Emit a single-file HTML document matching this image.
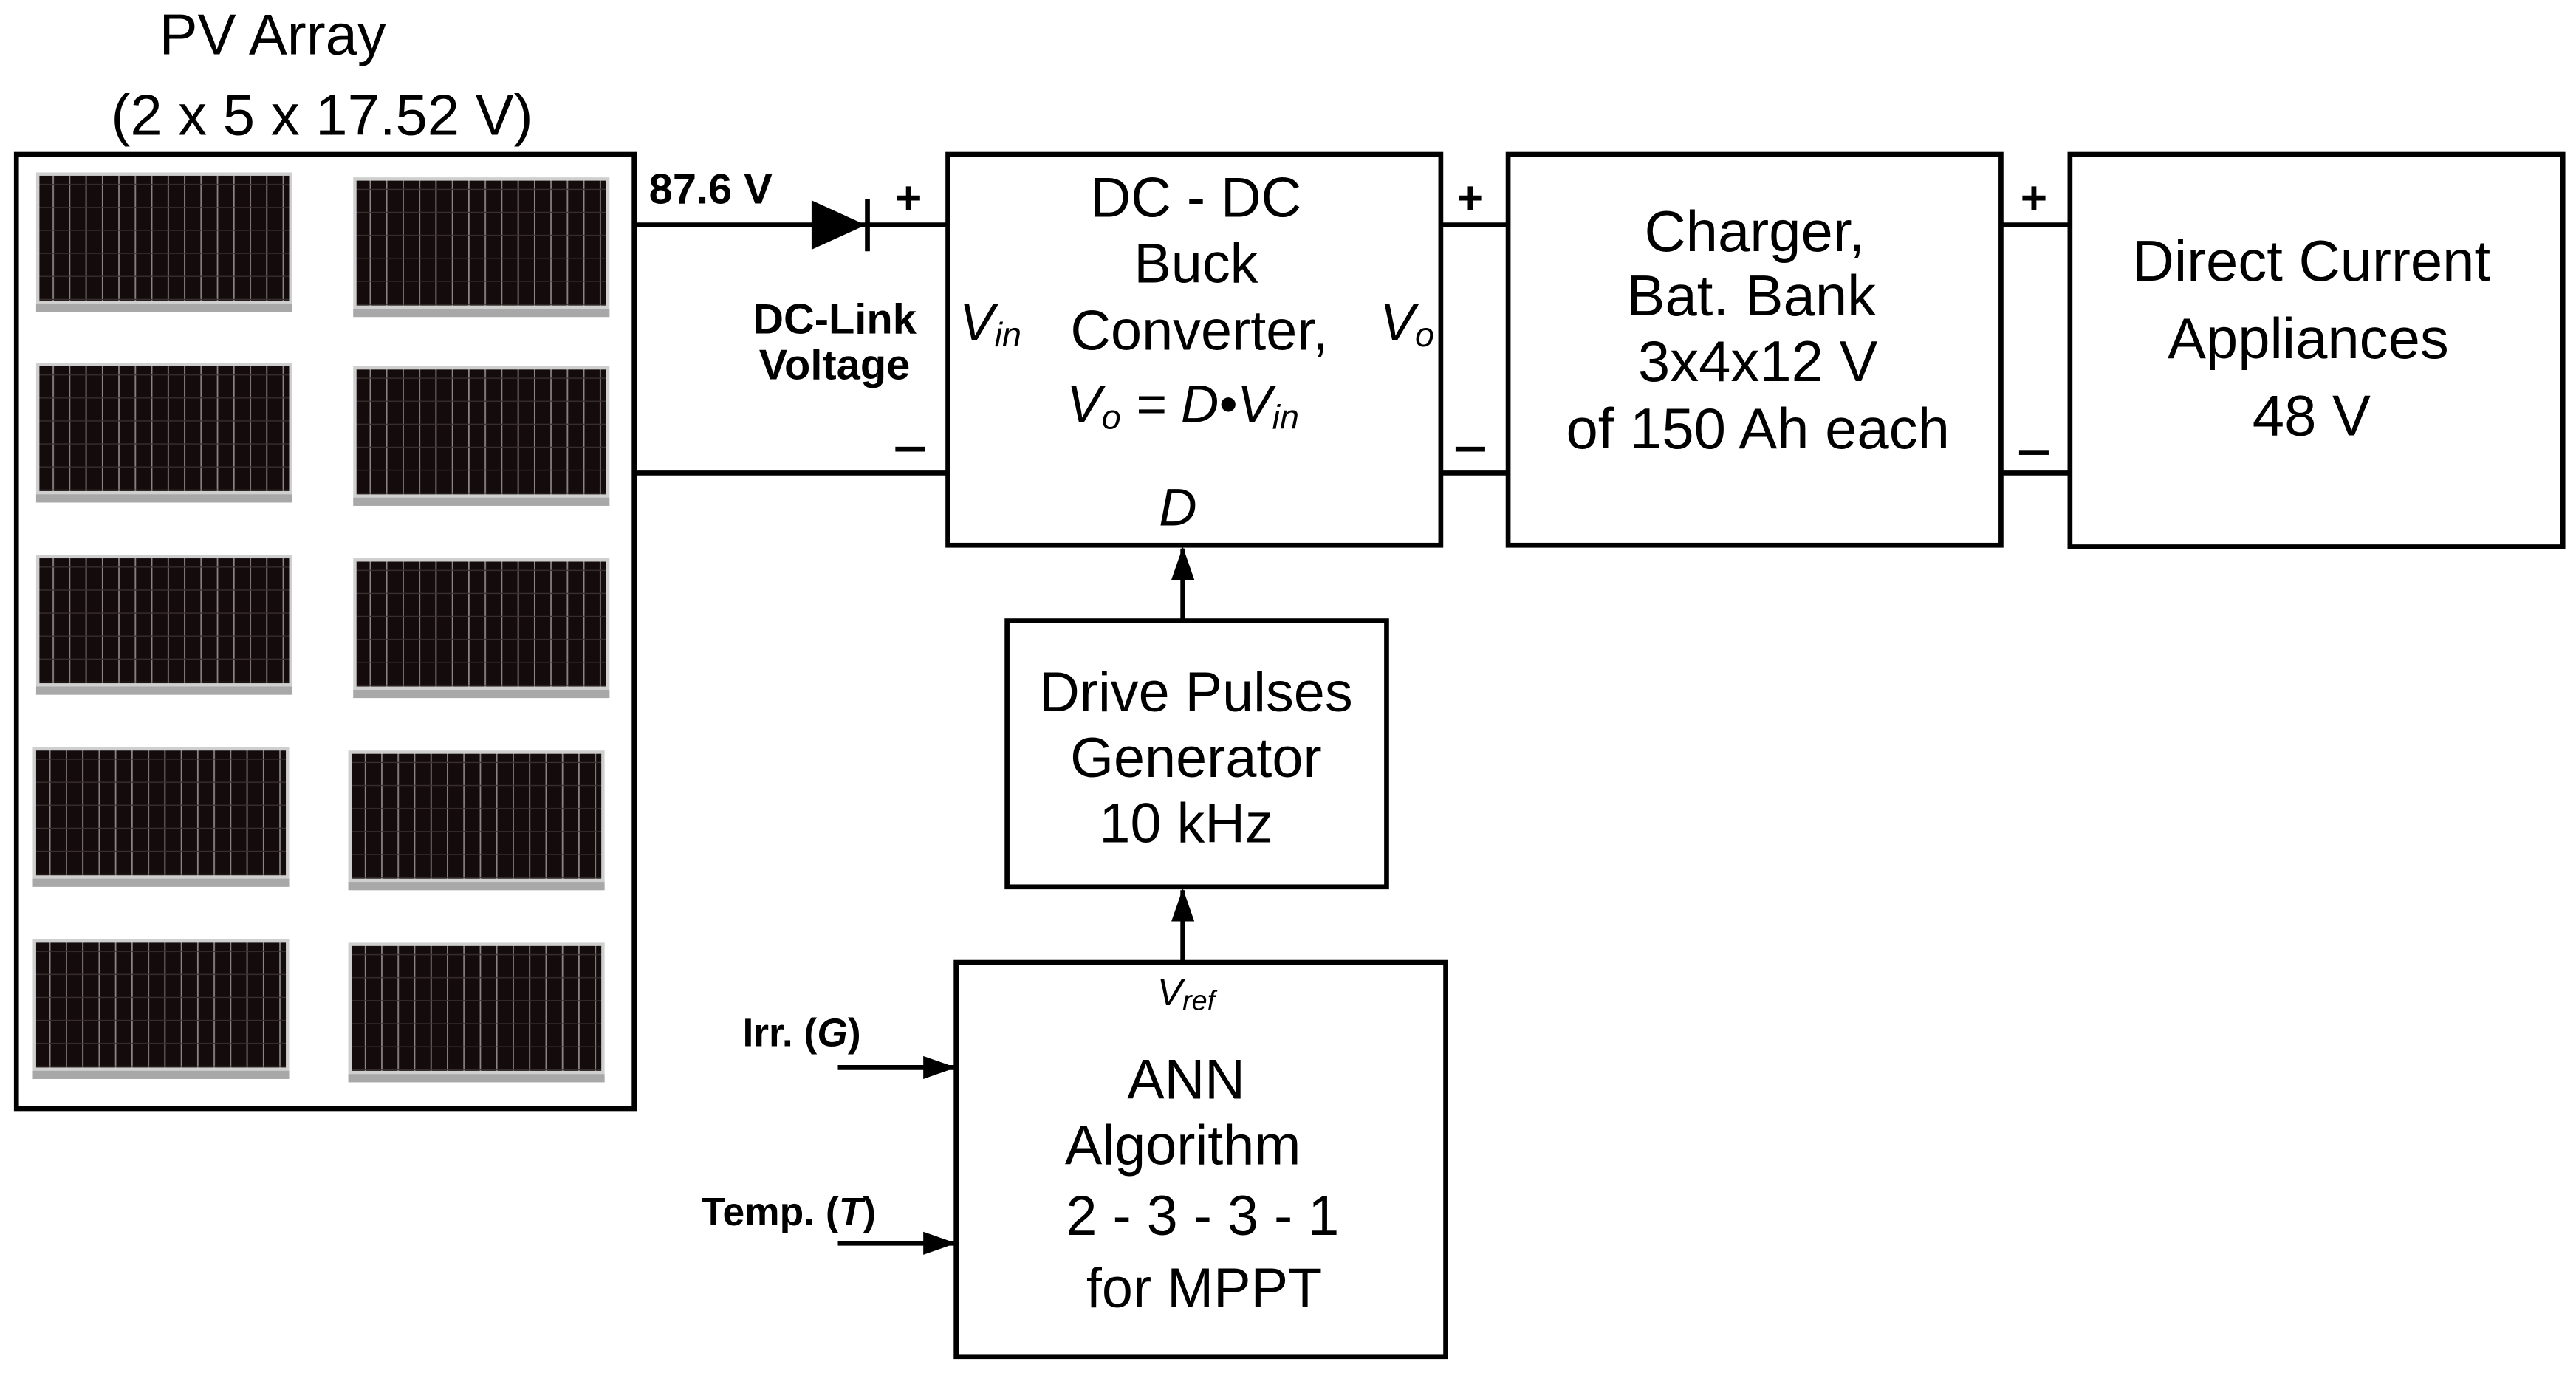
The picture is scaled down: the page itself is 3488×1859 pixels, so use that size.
<!DOCTYPE html>
<html><head><meta charset="utf-8"><style>
html,body{margin:0;padding:0;background:#fff;}
svg{display:block;}
text{font-family:"Liberation Sans",Arial,sans-serif;fill:#000;}
</style></head><body>
<svg width="3488" height="1859" viewBox="0 0 1568 836" preserveAspectRatio="none" xmlns="http://www.w3.org/2000/svg">
<defs>
<pattern id="cells" x="0" y="0" width="10" height="14" patternUnits="userSpaceOnUse">
<rect width="10" height="14" fill="#140c0c"/>
<rect x="0" y="0" width="0.8" height="14" fill="#8a8585"/>
<rect x="0" y="7" width="10" height="0.6" fill="#3a3030"/>
</pattern>
<marker id="ah" markerWidth="20" markerHeight="16" refX="19" refY="8" orient="auto" markerUnits="userSpaceOnUse">
<path d="M0,1 L20,8 L0,15 z" fill="#000"/>
</marker>
<g id="p"><rect x="0" y="0" width="156" height="85" fill="#cfcfcf"/><rect x="2" y="2" width="152" height="76" fill="url(#cells)"/><rect x="0" y="80" width="156" height="5" fill="#a8a8a8"/></g>
</defs>
<text x="166" y="33" font-size="35" text-anchor="middle">PV Array</text>
<text x="196" y="82" font-size="35" text-anchor="middle">(2 x 5 x 17.52 V)</text>
<rect x="10" y="94" width="376" height="581" fill="#fff" stroke="#000" stroke-width="3"/>
<use href="#p" x="22" y="105"/><use href="#p" x="215" y="108"/>
<use href="#p" x="22" y="221"/><use href="#p" x="215" y="223"/>
<use href="#p" x="22" y="338"/><use href="#p" x="215" y="340"/>
<use href="#p" x="20" y="455"/><use href="#p" x="212" y="457"/>
<use href="#p" x="20" y="572"/><use href="#p" x="212" y="574"/>
<line x1="386" y1="137" x2="577" y2="137" stroke="#000" stroke-width="3"/>
<line x1="386" y1="288" x2="577" y2="288" stroke="#000" stroke-width="3"/>
<path d="M494,122 L527,137 L494,152 z" fill="#000"/>
<line x1="528" y1="121" x2="528" y2="153" stroke="#000" stroke-width="3"/>
<text x="395" y="124" font-size="26" font-weight="bold">87.6 V</text>
<text x="553" y="130" font-size="28" font-weight="bold" text-anchor="middle">+</text>
<rect x="545" y="272" width="18" height="3" fill="#000"/>
<text x="508" y="203" font-size="26" font-weight="bold" text-anchor="middle">DC-Link</text>
<text x="508" y="231" font-size="26" font-weight="bold" text-anchor="middle">Voltage</text>
<rect x="577" y="94" width="300" height="238" fill="none" stroke="#000" stroke-width="3"/>
<text x="728" y="132" font-size="34" text-anchor="middle">DC - DC</text>
<text x="728" y="172" font-size="34" text-anchor="middle">Buck</text>
<text x="730" y="213" font-size="34" text-anchor="middle">Converter,</text>
<text x="720" y="257" font-size="32" text-anchor="middle" font-style="italic">V<tspan font-size="21" dy="4">o</tspan><tspan dy="-4"> = D•V</tspan><tspan font-size="21" dy="4">in</tspan></text>
<text x="717" y="320" font-size="32" text-anchor="middle" font-style="italic">D</text>
<text x="584" y="207" font-size="32" font-style="italic">V<tspan font-size="21" dy="4">in</tspan></text>
<text x="840" y="207" font-size="32" font-style="italic">V<tspan font-size="21" dy="4">o</tspan></text>
<line x1="877" y1="137" x2="918" y2="137" stroke="#000" stroke-width="3"/>
<line x1="877" y1="288" x2="918" y2="288" stroke="#000" stroke-width="3"/>
<text x="895" y="130" font-size="28" font-weight="bold" text-anchor="middle">+</text>
<rect x="886" y="272" width="18" height="3" fill="#000"/>
<rect x="918" y="94" width="300" height="238" fill="none" stroke="#000" stroke-width="3"/>
<text x="1068" y="153" font-size="35" text-anchor="middle">Charger,</text>
<text x="1066" y="192" font-size="35" text-anchor="middle">Bat. Bank</text>
<text x="1070" y="232" font-size="35" text-anchor="middle">3x4x12 V</text>
<text x="1070" y="273" font-size="35" text-anchor="middle">of 150 Ah each</text>
<line x1="1218" y1="137" x2="1260" y2="137" stroke="#000" stroke-width="3"/>
<line x1="1218" y1="288" x2="1260" y2="288" stroke="#000" stroke-width="3"/>
<text x="1238" y="130" font-size="28" font-weight="bold" text-anchor="middle">+</text>
<rect x="1229" y="274" width="18" height="3" fill="#000"/>
<rect x="1260" y="94" width="300" height="239" fill="none" stroke="#000" stroke-width="3"/>
<text x="1407" y="171" font-size="35" text-anchor="middle">Direct Current</text>
<text x="1405" y="218" font-size="35" text-anchor="middle">Appliances</text>
<text x="1407" y="265" font-size="35" text-anchor="middle">48 V</text>
<line x1="720" y1="378" x2="720" y2="334" stroke="#000" stroke-width="3" marker-end="url(#ah)"/>
<line x1="720" y1="586" x2="720" y2="542" stroke="#000" stroke-width="3" marker-end="url(#ah)"/>
<rect x="613" y="378" width="231" height="162" fill="none" stroke="#000" stroke-width="3"/>
<text x="728" y="433" font-size="34" text-anchor="middle">Drive Pulses</text>
<text x="728" y="473" font-size="34" text-anchor="middle">Generator</text>
<text x="722" y="513" font-size="34" text-anchor="middle">10 kHz</text>
<rect x="582" y="586" width="298" height="240" fill="none" stroke="#000" stroke-width="3"/>
<text x="722" y="612" font-size="23" text-anchor="middle" font-style="italic">V<tspan font-size="17" dy="3">ref</tspan></text>
<text x="722" y="669" font-size="34" text-anchor="middle">ANN</text>
<text x="720" y="709" font-size="34" text-anchor="middle">Algorithm</text>
<text x="732" y="752" font-size="34" text-anchor="middle">2 - 3 - 3 - 1</text>
<text x="733" y="796" font-size="34" text-anchor="middle">for MPPT</text>
<text x="452" y="637" font-size="24" font-weight="bold">Irr. (<tspan font-style="italic">G</tspan>)</text>
<line x1="510" y1="650" x2="581" y2="650" stroke="#000" stroke-width="3" marker-end="url(#ah)"/>
<text x="427" y="746" font-size="24" font-weight="bold">Temp. (<tspan font-style="italic">T</tspan>)</text>
<line x1="510" y1="757" x2="581" y2="757" stroke="#000" stroke-width="3" marker-end="url(#ah)"/>
</svg>
</body></html>
